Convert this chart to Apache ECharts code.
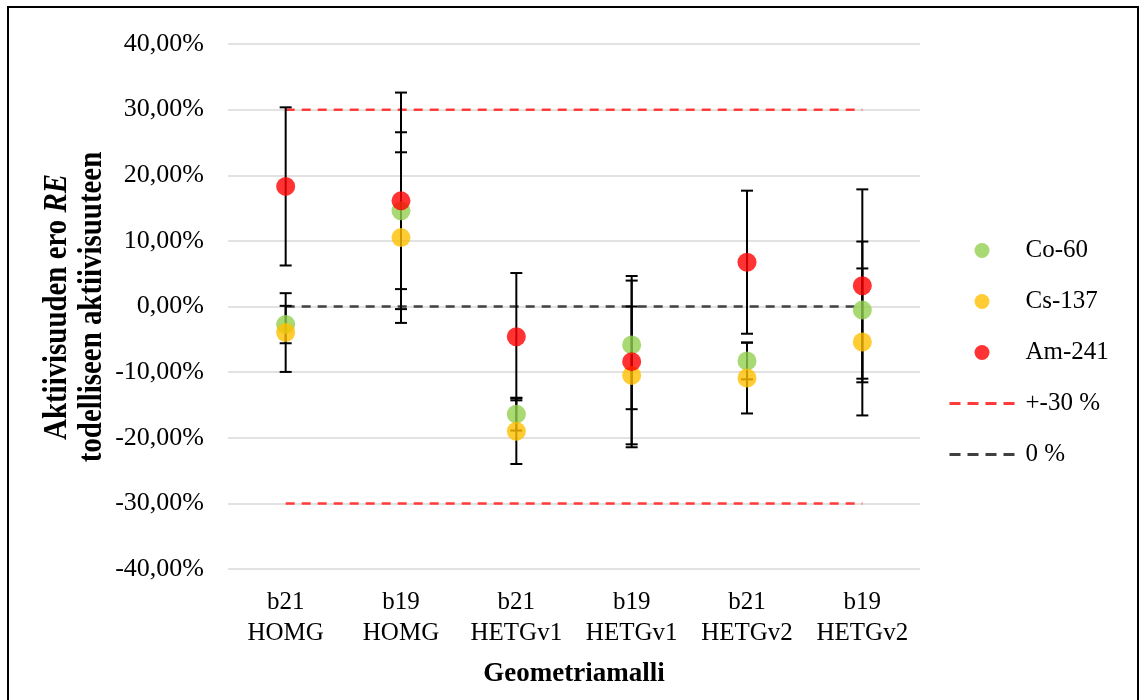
<!DOCTYPE html>
<html>
<head>
<meta charset="utf-8">
<script src="https://cdn.jsdelivr.net/npm/echarts@6/dist/echarts.min.js"></script>
<style>html,body{margin:0;padding:0;background:#fff;}#c{width:1143px;height:700px;}</style>
</head>
<body>
<div id="c"></div>
<script>
const categories = ['b21\nHOMG', 'b19\nHOMG', 'b21\nHETGv1', 'b19\nHETGv1', 'b21\nHETGv2', 'b19\nHETGv2'];
const co60 = [-2.75, 14.6, -16.4, -5.85, -8.3, -0.55];
const co60Err = [2.85, 11.95, 2.5, 9.8, 2.8, 10.45];
const cs137 = [-3.97, 10.5, -19.0, -10.5, -10.9, -5.4];
const cs137Err = [6.0, 13.0, 5.0, 10.5, 5.4, 11.2];
const am241 = [18.3, 16.1, -4.6, -8.4, 6.75, 3.15];
const am241Err = [12.05, 16.5, 9.7, 13.05, 10.9, 14.7];
const upperLimit = [30, 30, 30, 30, 30, 30];
const lowerLimit = [-30, -30, -30, -30, -30, -30];
const zeroLine = [0, 0, 0, 0, 0, 0];

const FONT = '"Liberation Serif", "Times New Roman", serif';

function errData(vals, errs) {
  return vals.map((v, i) => [i, v - errs[i], v + errs[i]]);
}
function renderErr(params, api) {
  const x = api.value(0);
  const lo = api.coord([x, api.value(1)]);
  const hi = api.coord([x, api.value(2)]);
  const w = 6;
  const st = { stroke: '#000', lineWidth: 2 };
  return {
    type: 'group',
    children: [
      { type: 'line', shape: { x1: lo[0], y1: lo[1], x2: hi[0], y2: hi[1] }, style: st },
      { type: 'line', shape: { x1: lo[0] - w, y1: lo[1], x2: lo[0] + w, y2: lo[1] }, style: st },
      { type: 'line', shape: { x1: hi[0] - w, y1: hi[1], x2: hi[0] + w, y2: hi[1] }, style: st }
    ]
  };
}
function errSeries(name, vals, errs) {
  return { type: 'custom', name: name, renderItem: renderErr, data: errData(vals, errs), z: 3, silent: true,
    encode: { x: 0, y: [1, 2] } };
}
function pointSeries(name, vals, color) {
  return { type: 'scatter', name: name, data: vals, symbolSize: 19, z: 4,
    itemStyle: { color: color, opacity: 0.8 } };
}
function refLine(name, vals, color) {
  return { type: 'line', name: name, data: vals, symbol: 'none', z: 2, silent: true,
    lineStyle: { color: color, width: 2.5, type: [9, 7] }, itemStyle: { color: color } };
}

const nameStyle = { font: 'bold 33px "Liberation Serif", "Times New Roman", serif', fill: '#000',
  align: 'center', verticalAlign: 'middle' };

const chart = echarts.init(document.getElementById('c'));
chart.setOption({
  animation: false,
  backgroundColor: '#fff',
  grid: { left: 228, right: 223, top: 44, bottom: 131 },
  xAxis: {
    type: 'category', data: categories,
    name: 'Geometriamalli', nameLocation: 'middle', nameGap: 92,
    nameTextStyle: { fontFamily: FONT, fontSize: 27, fontWeight: 'bold', color: '#000' },
    axisLine: { show: false }, axisTick: { show: false },
    axisLabel: { interval: 0, fontFamily: FONT, fontSize: 25, color: '#000', lineHeight: 31, margin: 18 }
  },
  yAxis: {
    type: 'value', min: -40, max: 40, interval: 10,
    axisLine: { show: false }, axisTick: { show: false },
    splitLine: { lineStyle: { color: '#d9d9d9', width: 1.5 } },
    axisLabel: { fontFamily: FONT, fontSize: 26, color: '#000', margin: 24,
      formatter: v => v.toFixed(2).replace('.', ',') + '%' }
  },
  legend: {
    orient: 'vertical', left: 948, top: 238, padding: 0,
    itemWidth: 65, itemHeight: 15, itemGap: 26,
    textStyle: { fontFamily: FONT, fontSize: 25, color: '#000', lineHeight: 25, padding: [0, 0, 0, 6] },
    data: [
      { name: 'Co-60', icon: 'circle' },
      { name: 'Cs-137', icon: 'circle' },
      { name: 'Am-241', icon: 'circle' },
      { name: '+-30 %', itemStyle: { opacity: 0 }, lineStyle: { type: [11, 7], width: 3 } },
      { name: '0 %', itemStyle: { opacity: 0 }, lineStyle: { type: [11, 7], width: 3 } }
    ]
  },
  graphic: [
    {
      type: 'rect', shape: { x: 8, y: 7, width: 1130, height: 700 },
      style: { fill: 'none', stroke: '#000', lineWidth: 2 }, silent: true, z: 100
    },
    {
      type: 'text', x: 57, y: 307, rotation: Math.PI / 2, scaleX: 0.875, silent: true,
      style: Object.assign({}, nameStyle, {
        text: '{b|Aktiivisuuden ero }{bi|RE}',
        rich: {
          b: { font: 'bold 33px "Liberation Serif", "Times New Roman", serif', fill: '#000' },
          bi: { font: 'italic bold 33px "Liberation Serif", "Times New Roman", serif', fill: '#000' }
        }
      })
    },
    {
      type: 'text', x: 92, y: 307, rotation: Math.PI / 2, scaleX: 0.875, silent: true,
      style: Object.assign({}, nameStyle, { text: 'todelliseen aktiivisuuteen' })
    }
  ],
  series: [
    refLine('+-30 %', upperLimit, '#ff3b3b'),
    refLine('+-30 %', lowerLimit, '#ff3b3b'),
    refLine('0 %', zeroLine, '#404040'),
    errSeries('errCo', co60, co60Err),
    errSeries('errCs', cs137, cs137Err),
    errSeries('errAm', am241, am241Err),
    pointSeries('Co-60', co60, '#92D050'),
    pointSeries('Cs-137', cs137, '#FFC000'),
    pointSeries('Am-241', am241, '#FF0000')
  ]
});
</script>
</body>
</html>
